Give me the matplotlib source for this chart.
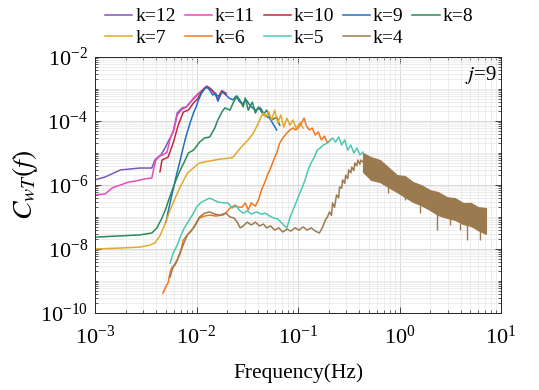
"""
Cospectra C_wT(f) for several levels k at j=9, read off the reference figure.
Values are stored as log10(frequency) and log10(C_wT).
"""

import numpy as np
import matplotlib
matplotlib.use("Agg")
import matplotlib.pyplot as plt
from matplotlib.ticker import LogLocator, NullFormatter

plt.rcParams["font.family"] = ["Liberation Serif", "DejaVu Serif"]
plt.rcParams["mathtext.fontset"] = "stix"

labels = ["k=12", "k=11", "k=10", "k=9", "k=8", "k=7", "k=6", "k=5", "k=4"]
colors = ["#7E57B5", "#E84CC0", "#BE2A40", "#1F6FC0", "#2A8A5A",
          "#E0AA2A", "#F0781E", "#4CC9B0", "#9C7A50"]

# log10(f), log10(C)
lf12 = [-3.00, -2.90, -2.75, -2.56, -2.44, -2.41, -2.38, -2.35, -2.31, -2.26, -2.23, -2.19,
        -2.14, -2.10, -2.06, -2.02, -1.99, -1.95, -1.92, -1.90, -1.87, -1.82, -1.79, -1.75, -1.71]
lc12 = [-5.84, -5.75, -5.53, -5.47, -5.47, -5.22, -5.13, -5.06, -4.84, -4.53, -4.34, -3.75,
        -3.59, -3.56, -3.41, -3.28, -3.16, -3.06, -2.97, -2.91, -2.97, -3.13, -3.34, -3.06, -3.16]

lf11 = [-3.00, -2.90, -2.83, -2.75, -2.67, -2.61, -2.51, -2.44, -2.42, -2.40, -2.36, -2.33,
        -2.29, -2.26, -2.22, -2.19, -2.14, -2.10, -2.06, -2.02, -1.99, -1.95, -1.92, -1.90,
        -1.87, -1.82, -1.79, -1.75, -1.71]
lc11 = [-6.31, -6.28, -6.09, -6.00, -5.91, -5.88, -5.81, -5.78, -5.47, -5.22, -5.09, -5.06,
        -4.97, -4.56, -4.25, -3.81, -3.63, -3.56, -3.41, -3.25, -3.19, -3.06, -2.97, -2.91,
        -2.97, -3.13, -3.31, -3.06, -3.16]

lf10 = [-2.36, -2.34, -2.28, -2.23, -2.18, -2.13, -2.08, -2.03, -1.99, -1.95, -1.92, -1.89,
        -1.85, -1.81, -1.78, -1.75, -1.71]
lc10 = [-5.59, -5.22, -5.13, -4.69, -4.13, -3.72, -3.66, -3.44, -3.31, -3.09, -2.97, -2.94,
        -3.03, -3.19, -3.22, -3.06, -3.13]

lf9 = [-2.30, -2.28, -2.25, -2.22, -2.19, -2.16, -2.13, -2.10, -2.06, -2.03, -2.00, -1.98,
       -1.95, -1.92, -1.90, -1.87, -1.84, -1.81, -1.79, -1.75, -1.72, -1.68, -1.64, -1.61,
       -1.58, -1.55, -1.51, -1.47, -1.42, -1.37, -1.33, -1.28, -1.21]
lc9 = [-7.16, -6.84, -6.41, -6.00, -5.59, -5.22, -4.81, -4.44, -4.03, -3.75, -3.53, -3.34,
       -3.13, -3.00, -2.94, -3.03, -3.19, -3.13, -3.38, -3.09, -3.16, -3.28, -3.34, -3.22,
       -3.38, -3.47, -3.34, -3.53, -3.66, -3.59, -3.81, -3.91, -4.28]

lf8 = [-3.00, -2.75, -2.56, -2.44, -2.39, -2.34, -2.30, -2.26, -2.21, -2.16, -2.12, -2.08,
       -2.03, -1.97, -1.92, -1.87, -1.82, -1.79, -1.75, -1.72, -1.67, -1.64, -1.60, -1.56,
       -1.54, -1.52, -1.49, -1.45, -1.42, -1.39, -1.34, -1.31, -1.26, -1.21, -1.18]
lc8 = [-7.63, -7.59, -7.56, -7.50, -7.34, -7.03, -6.72, -6.34, -5.91, -5.53, -5.28, -5.00,
       -4.91, -4.66, -4.53, -4.50, -4.22, -3.97, -3.72, -3.59, -3.66, -3.44, -3.22, -3.41,
       -3.56, -3.28, -3.66, -3.41, -3.75, -3.56, -3.81, -3.66, -3.97, -3.88, -4.13]

lf7 = [-3.00, -2.75, -2.56, -2.46, -2.41, -2.36, -2.31, -2.26, -2.21, -2.16, -2.09, -2.01,
       -1.97, -1.87, -1.77, -1.67, -1.64, -1.60, -1.54, -1.49, -1.44, -1.40, -1.37, -1.34,
       -1.32, -1.29, -1.26, -1.23, -1.20, -1.17, -1.14, -1.11, -1.08, -1.05, -1.02, -0.98, -0.95]
lc7 = [-8.00, -7.97, -7.94, -7.88, -7.81, -7.59, -7.22, -6.78, -6.41, -6.06, -5.63, -5.41,
       -5.31, -5.25, -5.19, -5.16, -5.13, -4.97, -4.75, -4.59, -4.38, -4.13, -3.91, -3.75,
       -3.88, -3.72, -3.97, -3.66, -4.06, -3.81, -4.19, -3.91, -4.13, -3.97, -4.22, -4.06, -4.22]

lf6 = [-2.33, -2.30, -2.28, -2.26, -2.24, -2.21, -2.18, -2.16, -2.13, -2.09, -2.06, -2.01,
       -1.97, -1.92, -1.87, -1.81, -1.74, -1.70, -1.67, -1.62, -1.59, -1.55, -1.52, -1.49,
       -1.46, -1.42, -1.39, -1.36, -1.33, -1.30, -1.27, -1.24, -1.21, -1.18, -1.15, -1.11,
       -1.08, -1.05, -1.02, -0.99, -0.96, -0.94, -0.92, -0.89, -0.86, -0.83, -0.80, -0.77,
       -0.74, -0.71, -0.68]
lc6 = [-9.38, -9.16, -9.06, -8.72, -8.56, -8.50, -8.28, -8.13, -7.72, -7.56, -7.47, -7.25,
       -7.03, -6.97, -6.94, -6.97, -6.94, -6.84, -6.72, -6.63, -6.69, -6.69, -6.56, -6.78,
       -6.56, -6.66, -6.47, -6.16, -5.94, -5.69, -5.47, -5.22, -5.00, -4.69, -4.53, -4.38,
       -4.28, -4.22, -4.28, -4.19, -4.03, -3.91, -4.13, -4.28, -4.22, -4.44, -4.34, -4.59,
       -4.47, -4.69, -4.59]

lf5 = [-2.26, -2.23, -2.19, -2.16, -2.12, -2.09, -2.06, -2.03, -2.00, -1.95, -1.91, -1.87,
       -1.83, -1.79, -1.73, -1.69, -1.65, -1.61, -1.58, -1.54, -1.50, -1.46, -1.41, -1.36,
       -1.32, -1.28, -1.24, -1.20, -1.16, -1.13, -1.11, -1.08, -1.05, -1.02, -0.99, -0.96,
       -0.93, -0.90, -0.87, -0.84, -0.81, -0.78, -0.75, -0.71, -0.68, -0.66, -0.63, -0.60,
       -0.57, -0.54, -0.51, -0.48, -0.45, -0.42, -0.39, -0.36]
lc5 = [-8.44, -8.13, -7.88, -7.63, -7.34, -7.19, -7.03, -6.88, -6.69, -6.53, -6.47, -6.41,
       -6.47, -6.53, -6.56, -6.56, -6.72, -6.66, -6.78, -6.88, -6.81, -6.91, -6.84, -6.91,
       -6.88, -6.97, -7.03, -7.06, -7.19, -7.28, -7.34, -7.03, -6.78, -6.56, -6.31, -6.09,
       -5.84, -5.53, -5.31, -5.13, -4.91, -4.84, -4.75, -4.69, -4.59, -4.53, -4.66, -4.50,
       -4.75, -4.59, -4.91, -4.75, -5.00, -4.84, -5.06, -4.97]

lf4 = [-2.26, -2.23, -2.19, -2.14, -2.09, -2.03, -1.97, -1.92, -1.87, -1.82, -1.77, -1.71,
       -1.67, -1.63, -1.60, -1.57, -1.54, -1.50, -1.46, -1.42, -1.38, -1.34, -1.31, -1.27,
       -1.23, -1.19, -1.15, -1.11, -1.07, -1.03, -0.99, -0.95, -0.91, -0.87, -0.83, -0.79,
       -0.76, -0.73, -0.71, -0.69, -0.67, -0.66, -0.64, -0.62, -0.60, -0.59, -0.57, -0.56,
       -0.54, -0.53, -0.51, -0.50, -0.48, -0.47, -0.45, -0.44, -0.42, -0.41, -0.39, -0.38,
       -0.36, -0.19, -0.02, 0.13, 0.30, 0.47, 0.63, 0.85]
lc4 = [-8.88, -8.56, -8.34, -7.94, -7.56, -7.34, -7.00, -6.88, -6.84, -6.91, -6.94, -6.88,
       -7.00, -7.03, -7.16, -7.34, -7.28, -7.16, -7.25, -7.16, -7.28, -7.22, -7.34, -7.28,
       -7.41, -7.34, -7.47, -7.38, -7.44, -7.34, -7.41, -7.31, -7.41, -7.34, -7.44, -7.50,
       -7.34, -7.09, -7.00, -6.84, -6.95, -6.56, -6.70, -6.31, -6.40, -6.06, -6.10, -5.84,
       -5.95, -5.69, -5.80, -5.53, -5.62, -5.44, -5.55, -5.31, -5.40, -5.22, -5.35, -5.22,
       -5.28, -5.59, -5.94, -6.22, -6.47, -6.69, -6.88, -7.16]

# noisy high-frequency band of k=4 (upper / lower envelope) and its deepest dips
lf4_band = [-0.360, -0.281, -0.192, -0.113, -0.025, 0.054, 0.133, 0.212,
            0.300, 0.379, 0.468, 0.547, 0.626, 0.704, 0.773, 0.852]
lc4_top = [-5.00, -5.13, -5.22, -5.44, -5.69, -5.72, -5.91, -6.00,
           -6.16, -6.22, -6.38, -6.41, -6.56, -6.56, -6.69, -6.72]
lc4_bot = [-5.59, -5.84, -5.91, -6.06, -6.22, -6.38, -6.53, -6.63,
           -6.78, -6.94, -7.03, -7.09, -7.22, -7.28, -7.41, -7.53]
lf4_dip = [-0.11, 0.054, 0.20, 0.37, 0.50, 0.60, 0.665, 0.79]
lc4_dip = [-6.25, -6.47, -6.88, -7.41, -7.25, -7.41, -7.72, -7.72]

series_f = [lf12, lf11, lf10, lf9, lf8, lf7, lf6, lf5, lf4]
series_c = [lc12, lc11, lc10, lc9, lc8, lc7, lc6, lc5, lc4]

fig = plt.figure(figsize=(5.39, 3.9), dpi=100)
ax = fig.add_axes([95 / 539, 77 / 390, 406 / 539, 256 / 390])

handles = []
for lf, lc, lab, col in zip(series_f, series_c, labels, colors):
    h, = ax.plot(10 ** np.array(lf), 10 ** np.array(lc), color=col, lw=1.1, label=lab)
    handles.append(h)

brown = colors[-1]
fb = 10 ** np.array(lf4_band)
ax.fill_between(fb, 10 ** np.array(lc4_bot), 10 ** np.array(lc4_top),
                color=brown, lw=0.8, edgecolor=brown)
fd = 10 ** np.array(lf4_dip)
ax.vlines(fd, 10 ** np.array(lc4_dip), 10 ** np.interp(lf4_dip, lf4_band, lc4_bot),
          color=brown, lw=1.0)

ax.set_xscale("log")
ax.set_yscale("log")
ax.set_xlim(1e-3, 1e1)
ax.set_ylim(1e-10, 1e-2)
ax.set_xticks([1e-3, 1e-2, 1e-1, 1e0, 1e1])
ax.set_yticks([1e-10, 1e-8, 1e-6, 1e-4, 1e-2])
ax.xaxis.set_minor_locator(LogLocator(base=10, subs=np.arange(2, 10), numticks=50))
ax.yaxis.set_minor_locator(LogLocator(base=10, subs=np.arange(1, 10), numticks=50))
ax.xaxis.set_minor_formatter(NullFormatter())
ax.yaxis.set_minor_formatter(NullFormatter())

ax.grid(True, which="major", color="#d4d4d4", lw=0.6)
ax.grid(True, which="minor", color="#e6e6e6", lw=0.5)
ax.set_axisbelow(True)

ax.tick_params(which="both", direction="in", top=True, right=True, colors="#262626",
               labelcolor="black", labelsize=16)
ax.tick_params(which="major", length=4, width=0.6)
ax.tick_params(which="minor", length=2, width=0.5)
ax.tick_params(axis="x", pad=9)
ax.tick_params(axis="y", pad=5)
for s in ax.spines.values():
    s.set_color("#262626")
    s.set_linewidth(0.7)

ax.set_xlabel("Frequency(Hz)", fontsize=15.5)
ax.xaxis.set_label_coords(0.5, -0.195)
ax.set_ylabel(r"$C_{wT}(f)$", fontsize=20)
ax.yaxis.set_label_coords(-0.135, 0.5)

ax.text(0.99, 0.93, r"$j$=9", transform=ax.transAxes, ha="right", va="center", fontsize=15)

# legend: 5 per row, row-major order
order = [0, 5, 1, 6, 2, 7, 3, 8, 4]
fig.legend([handles[i] for i in order], [labels[i] for i in order],
           loc="upper left", bbox_to_anchor=(0.17, 1.015), ncol=5, frameon=False,
           fontsize=14, handlelength=1.4, handletextpad=0.15, columnspacing=0.45,
           labelspacing=0.2, borderpad=0.2)

fig.savefig("out.png", dpi=100)
